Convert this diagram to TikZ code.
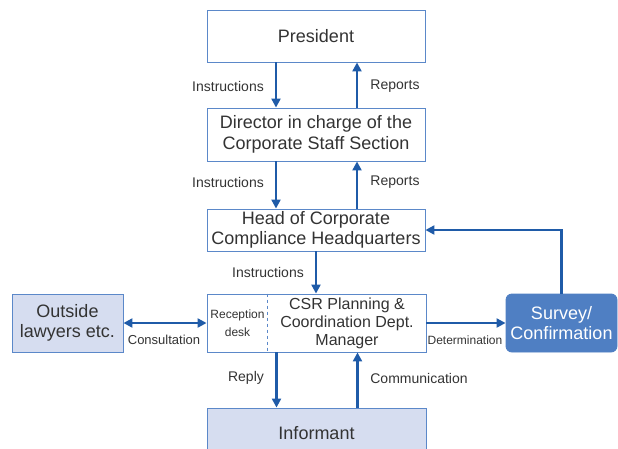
\documentclass[tikz,border=0pt]{standalone}
\usepackage{fontspec}
\setmainfont{Liberation Sans}
\usetikzlibrary{arrows.meta, positioning, calc}
\definecolor{flowblue}{HTML}{1F5BA8}
\definecolor{boxedge}{HTML}{5B88C9}
\definecolor{boxfill}{HTML}{D6DDF0}
\definecolor{surveyblue}{HTML}{4F7FC3}
\definecolor{textgray}{HTML}{333333}

\tikzset{
  orgbox/.style={draw=boxedge, line width=0.9pt, fill=white, minimum width=218pt,
    align=center, text=textgray, font=\fontsize{18}{20.5}\selectfont, inner sep=0pt},
  flow/.style={flowblue, line width=2.2pt, -{Triangle[length=9pt,width=9pt]}},
  lbl/.style={text=textgray, font=\fontsize{14}{16}\selectfont, inner sep=1pt},
}

\begin{document}
\begin{tikzpicture}[x=1pt, y=-1pt]
  \useasboundingbox (0,0) rectangle (618,448);
  % chain of command
  \node[orgbox, minimum height=52pt] (president) at (316,36) {President};
  \node[orgbox, minimum height=53pt] (director) at (316,134.5) {Director in charge of the\\Corporate Staff Section};
  \node[orgbox, minimum height=42pt] (head) at (316,230) {Head of Corporate\\Compliance Headquarters};
  \node[orgbox, minimum height=58pt, minimum width=219pt] (csr) at (316.5,323) {};
  \node[text=textgray, align=center, font=\fontsize{12}{18}\selectfont] (desk) at (237.5,323) {Reception\\desk};
  \node[text=textgray, align=center, font=\fontsize{16}{18}\selectfont] (manager) at (347,323) {CSR Planning \&\\Coordination Dept.\\Manager};
  \draw[boxedge, line width=0.9pt, dashed] ($(csr.north west)+(61,0)$) -- ($(csr.south west)+(61,0)$);
  % side boxes
  \node[orgbox, fill=boxfill, minimum width=111pt, minimum height=58pt] (lawyers) at (67.5,323) {Outside\\lawyers etc.};
  \node[orgbox, draw=surveyblue, fill=surveyblue, text=white, rounded corners=6pt, minimum width=111pt, minimum height=58pt] (survey) at (561.5,323) {Survey/\\Confirmation};
  \node[orgbox, fill=boxfill, minimum width=219pt, minimum height=50pt] (informant) at (316.5,433) {Informant};

  \draw[flow] ([xshift=-40pt]president.south) -- ([xshift=-40pt]director.north);
  \draw[flow] ([xshift=41pt]director.north) -- ([xshift=41pt]president.south);
  \draw[flow] ([xshift=-40pt]director.south) -- ([xshift=-40pt]head.north);
  \draw[flow] ([xshift=41pt]head.north) -- ([xshift=41pt]director.south);
  \draw[flow] (head.south) -- (head.south |- csr.north);
  \draw[flow, {Triangle[length=9pt,width=9pt]}-{Triangle[length=9pt,width=9pt]}] (lawyers.east) -- (csr.west);
  \draw[flow] (csr.east) -- (survey.west);
  \draw[flow] (survey.north) |- (head.east);
  \draw[flow] ([xshift=-40pt]csr.south) -- ([xshift=-40pt]informant.north);
  \draw[flow] ([xshift=41pt]informant.north) -- ([xshift=41pt]csr.south);

  % arrow labels
  \node[lbl] (instr1) at (228,86) {Instructions};
  \node[lbl] (rep1) at (395,86) {Reports};
  \node[lbl] (instr2) at (228,182) {Instructions};
  \node[lbl] (rep2) at (395,182) {Reports};
  \node[lbl] (instr3) at (268,272) {Instructions};
  \node[lbl, font=\fontsize{13}{15}\selectfont] (consult) at (164,340) {Consultation};
  \node[lbl, font=\fontsize{12}{14}\selectfont] (determ) at (465,340) {Determination};
  \node[lbl] (reply) at (246,378) {Reply};
  \node[lbl] (comm) at (419,378) {Communication};
\end{tikzpicture}
\end{document}
